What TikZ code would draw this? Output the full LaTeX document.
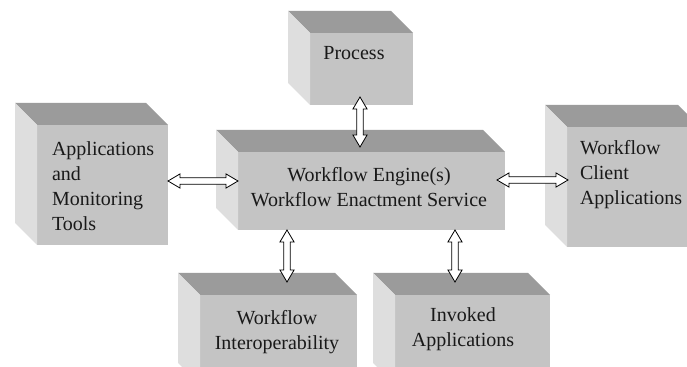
\documentclass[tikz,border=0pt]{standalone}
\usepackage{fontspec}
\setmainfont{Liberation Serif}
\newfontfamily\timesfont{Liberation Serif}
\usetikzlibrary{calc,fit}
\definecolor{topc}{RGB}{155,155,155}
\definecolor{frontc}{RGB}{196,196,196}
\definecolor{leftc}{RGB}{222,222,222}
\tikzset{
  frontface/.style={fill=frontc, draw=none, inner sep=0pt, outer sep=0pt},
  lbl/.style={inner sep=0pt, outer sep=0pt, font=\timesfont\fontsize{15}{18.75}\selectfont, text=black!90},
  hollow/.style={fill=white, draw=black, line width=0.6pt, line join=miter},
}
\newcommand\cubefaces[1]{%
  \fill[topc] (#1.north west) -- ($(#1.north west)+(-22,-22)$) -- ($(#1.north east)+(-22,-22)$) -- (#1.north east) -- cycle;
  \fill[leftc] (#1.north west) -- ($(#1.north west)+(-22,-22)$) -- ($(#1.south west)+(-22,-22)$) -- (#1.south west) -- cycle;}
\newcommand\dblarrow[2]{%
  \filldraw[hollow] (#1)
    -- ($(#1)!9pt!(#2)!5.3pt!90:(#2)$) -- ($(#1)!9pt!(#2)!2.5pt!90:(#2)$)
    -- ($(#2)!9pt!(#1)!2.5pt!-90:(#1)$) -- ($(#2)!9pt!(#1)!5.3pt!-90:(#1)$)
    -- (#2)
    -- ($(#2)!9pt!(#1)!5.3pt!90:(#1)$) -- ($(#2)!9pt!(#1)!2.5pt!90:(#1)$)
    -- ($(#1)!9pt!(#2)!2.5pt!-90:(#2)$) -- ($(#1)!9pt!(#2)!5.3pt!-90:(#2)$)
    -- cycle;}
\begin{document}
\begin{tikzpicture}[x=0.75pt, y=-0.75pt]
\useasboundingbox (0,0) rectangle (687,367);
\clip (0,0) rectangle (687,367);
% front faces
\node[frontface, fit={(310,33) (413,105)}] (process) {};
\node[frontface, fit={(37,125) (168,245)}] (apps) {};
\node[frontface, fit={(238,152) (505,230)}] (engine) {};
\node[frontface, fit={(567,127) (700,247)}] (client) {};
\node[frontface, fit={(200,295) (357,385)}] (wi) {};
\node[frontface, fit={(395,295) (550,385)}] (ia) {};
\cubefaces{process}
\cubefaces{apps}
\cubefaces{engine}
\cubefaces{client}
\cubefaces{wi}
\cubefaces{ia}
% labels
\node[lbl, anchor=base] (processT) at (354,60) {Process};
\node[lbl, anchor=west, align=left] (appsT) at (52,186) {Applications\\and\\Monitoring\\Tools};
\node[lbl, anchor=center, align=center] (engineT) at (369,187) {Workflow Engine(s)\\Workflow Enactment Service};
\node[lbl, anchor=west, align=left] (clientT) at (580,175) {Workflow\\Client\\Applications};
\node[lbl, anchor=center, align=center] (wiT) at (277,332) {Workflow\\Interoperability};
\node[lbl, anchor=center, align=center] (iaT) at (463,329) {Invoked\\Applications};
% connector end points
\coordinate (pe1) at ($(process.south)+(-1.5,-8)$);
\coordinate (pe2) at ($(engine.north -| process.south)+(-1.5,-5)$);
\coordinate (ae1) at ($(apps.east)+(0,-4)$);
\coordinate (ae2) at ($(engine.west |- apps.east)+(0,-4)$);
\coordinate (ec1) at ($(engine.east)+(-8,-11)$);
\coordinate (ec2) at ($(client.west |- engine.east)+(1,-11)$);
\coordinate (ew1) at ($(wi.north |- engine.south)+(8.5,0)$);
\coordinate (ew2) at ($(wi.north)+(8.5,-13)$);
\coordinate (ei1) at ($(ia.north |- engine.south)+(-17.5,0)$);
\coordinate (ei2) at ($(ia.north)+(-17.5,-13)$);
% connectors
\dblarrow{pe1}{pe2}
\dblarrow{ae1}{ae2}
\dblarrow{ec1}{ec2}
\dblarrow{ew1}{ew2}
\dblarrow{ei1}{ei2}
\end{tikzpicture}
\end{document}
